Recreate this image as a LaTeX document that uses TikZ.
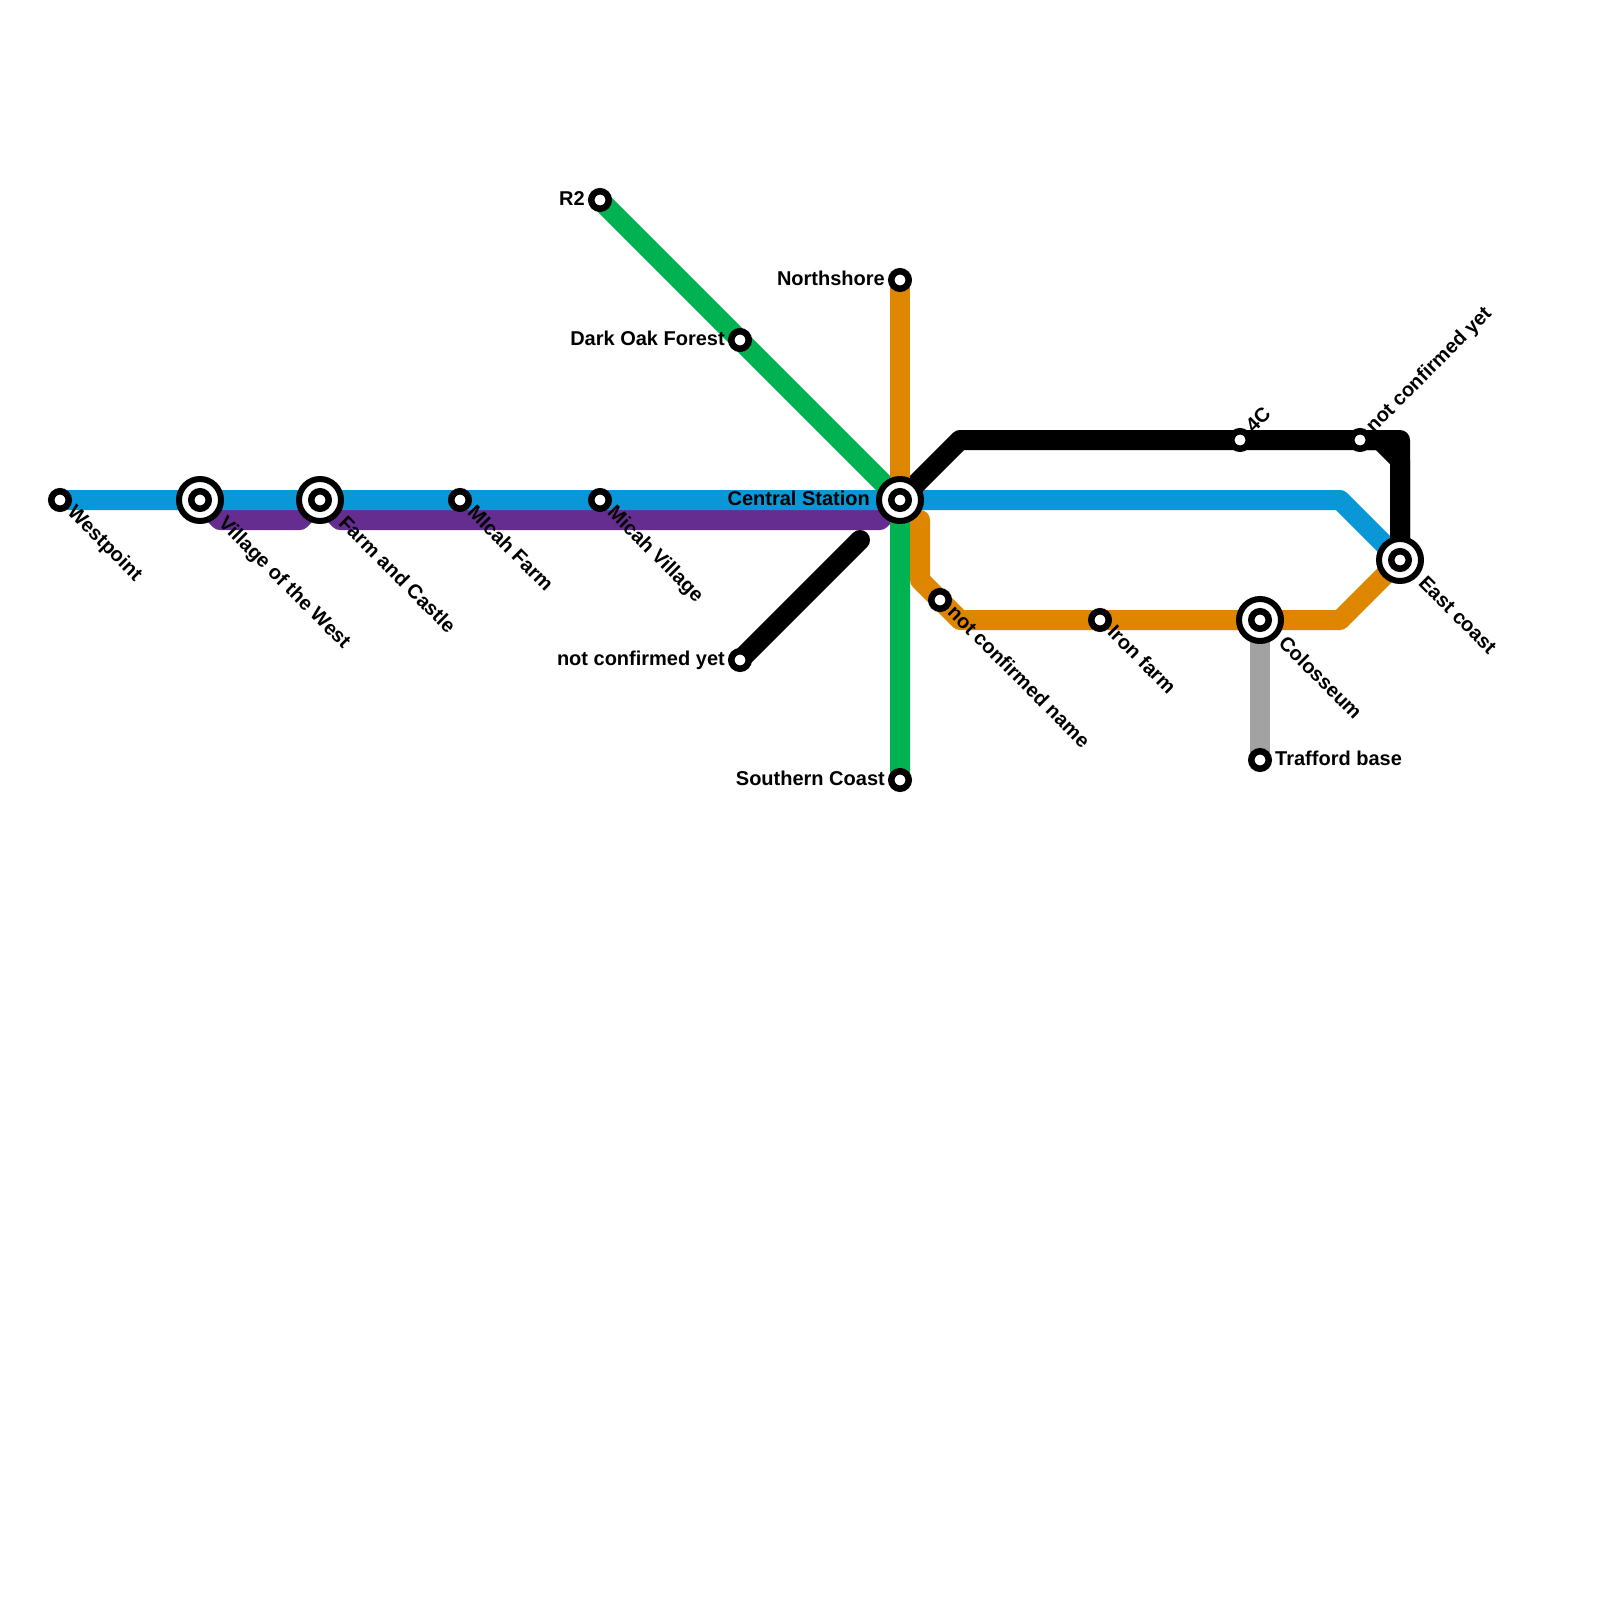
\documentclass[tikz,border=0pt]{standalone}
\usepackage{fontspec}
\setmainfont{Liberation Sans}
\usepackage{xcolor}
\usetikzlibrary{positioning, backgrounds}
\definecolor{lineblue}{HTML}{0997D8}
\definecolor{linepurple}{HTML}{662D91}
\definecolor{linegreen}{HTML}{00B251}
\definecolor{lineorange}{HTML}{DF8600}
\definecolor{linegrey}{HTML}{A2A2A2}

\begin{document}
\begin{tikzpicture}[
      x=1pt, y=-1pt,
      every node/.style={font=\fontsize{20}{22}\selectfont\bfseries},
      route/.style={line width=20pt, line cap=round, line join=round},
      station/.style={circle, draw=black, fill=white, line width=6.5pt, minimum size=17.5pt, inner sep=0pt, outer sep=0pt},
      hub/.style={circle, draw=black, fill=white, line width=6pt, minimum size=42pt, inner sep=0pt, outer sep=0pt},
      tag/.style={inner sep=0pt, text height=14.5pt, text depth=4.2pt},
      tagleft/.style={tag, anchor=east, yshift=-0.4pt},
      tagright/.style={tag, anchor=west, yshift=-0.4pt},
      tagdown/.style={tag, anchor=west, rotate=-45},
      tagup/.style={tag, anchor=west, rotate=45},
    ]
      \useasboundingbox (0,0) rectangle (1600,1600);

      \node[station] (westpoint) at (60,500) {};
      \node[hub] (villageouter) at (200,500) {};
      \node[station] (village) at (villageouter) {};
      \node[hub] (farmouter) at (320,500) {};
      \node[station] (farm) at (farmouter) {};
      \node[station] (micahfarm) at (460,500) {};
      \node[station] (micahvillage) at (600,500) {};
      \node[hub] (centralouter) at (900,500) {};
      \node[station] (central) at (centralouter) {};
      \node[station] (rtwo) at (600,200) {};
      \node[station] (darkoak) at (740,340) {};
      \node[station] (northshore) at (900,280) {};
      \node[station] (southern) at (900,780) {};
      \node[station] (unconfirmedsw) at (740,660) {};
      \node[station] (unnamed) at (940,600) {};
      \node[station] (ironfarm) at (1100,620) {};
      \node[hub] (colosseumouter) at (1260,620) {};
      \node[station] (colosseum) at (colosseumouter) {};
      \node[station] (trafford) at (1260,760) {};
      \node[hub] (eastouter) at (1400,560) {};
      \node[station] (east) at (eastouter) {};
      \node[station] (fourc) at (1240,440) {};
      \node[station] (unconfirmedne) at (1360,440) {};

      \coordinate (blueturn) at (1340,500);
      \coordinate (spurend) at (860,540);
      \coordinate (orangetop) at (900,520);
      \coordinate (orangeside) at (920,520);
      \coordinate (orangeknee) at (920,580);
      \coordinate (orangefoot) at (960,620);
      \coordinate (orangeturn) at (1340,620);
      \coordinate (blackknee) at (960,440);
      \coordinate (blackcorner) at (1400,440);
      \coordinate (chamferstart) at (1380,440);
      \coordinate (chamferend) at (1400,460);
      \coordinate (purplea) at (220,520);
      \coordinate (purpleb) at (300,520);
      \coordinate (purplec) at (340,520);
      \coordinate (purpled) at (880,520);

      \begin{scope}[on background layer]
        \draw[route, linegrey] (colosseum.center) -- (trafford.center);
        \draw[route, linepurple] (village.center) -- (purplea) -- (purpleb) -- (farm.center);
        \draw[route, linepurple] (farm.center) -- (purplec) -- (purpled) -- (central.center);
        \draw[route, lineblue] (westpoint.center) -- (central.center) -- (blueturn) -- (east.center);
        \draw[route, linegreen] (rtwo.center) -- (central.center) -- (southern.center);
        \draw[route, black] (central.center) -- (blackknee) -- (blackcorner) -- (east.center);
        \draw[route, black] (unconfirmedne.center) -- (chamferstart) -- (chamferend) -- (east.center);
        \draw[route, black] (unconfirmedsw.center) -- (spurend);
        \draw[route, lineorange] (northshore.center) -- (central.center);
        \draw[route, lineorange] (orangetop) -- (orangeside) -- (orangeknee) -- (orangefoot) -- (orangeturn) -- (east.center);
        \draw[route, linegreen] (central.center) -- (southern.center);
      \end{scope}

      \node[tagleft, left=15pt of rtwo.center] (rtwotag) {R2};
      \node[tagleft, left=15pt of darkoak.center] (darkoaktag) {Dark Oak Forest};
      \node[tagleft, left=15pt of northshore.center] (northshoretag) {Northshore};
      \node[tagleft, left=30pt of central.center] (centraltag) {Central Station};
      \node[tagleft, left=15pt of unconfirmedsw.center] (unconfirmedswtag) {not confirmed yet};
      \node[tagleft, left=15pt of southern.center] (southerntag) {Southern Coast};
      \node[tagright, right=15pt of trafford.center] (traffordtag) {Trafford base};

      \node[tagdown] (westpointtag) at ([shift={(10,10)}]westpoint.center) {Westpoint};
      \node[tagdown] (villagetag) at ([shift={(21,20.5)}]village.center) {Village of the West};
      \node[tagdown] (farmtag) at ([shift={(21,20.5)}]farm.center) {Farm and Castle};
      \node[tagdown] (micahfarmtag) at ([shift={(10,10)}]micahfarm.center) {MIcah Farm};
      \node[tagdown] (micahvillagetag) at ([shift={(10,10)}]micahvillage.center) {Micah Village};
      \node[tagdown] (unnamedtag) at ([shift={(10,10)}]unnamed.center) {not confirmed name};
      \node[tagdown] (ironfarmtag) at ([shift={(10,10)}]ironfarm.center) {Iron farm};
      \node[tagdown] (colosseumtag) at ([shift={(21,20.5)}]colosseum.center) {Colosseum};
      \node[tagdown] (easttag) at ([shift={(21,20.5)}]east.center) {East coast};
      \node[tagup] (fourctag) at ([shift={(10,-10)}]fourc.center) {4C};
      \node[tagup] (unconfirmednetag) at ([shift={(10,-10)}]unconfirmedne.center) {not confirmed yet};
    \end{tikzpicture}
\end{document}
